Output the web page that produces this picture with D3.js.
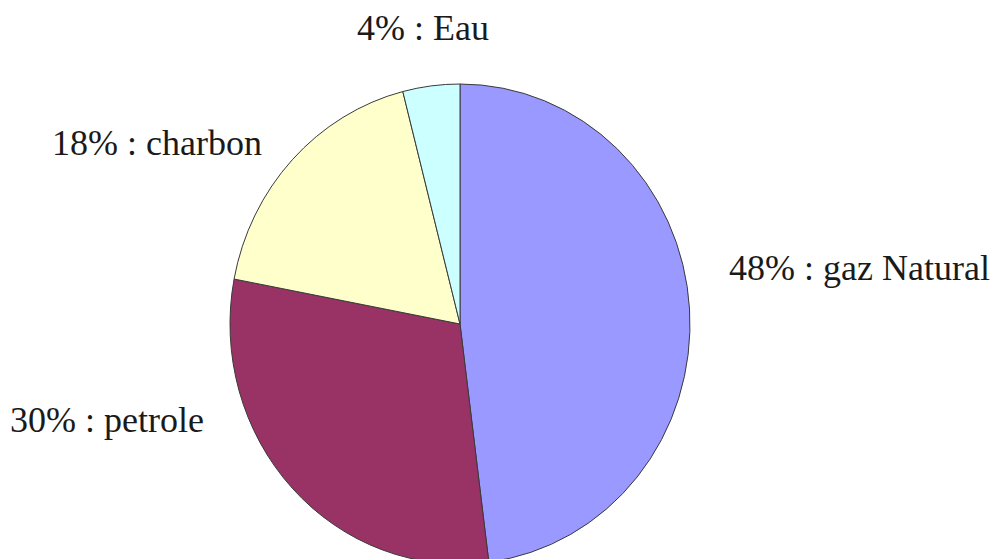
<!DOCTYPE html>
<html>
<head>
<meta charset="utf-8">
<script src="https://cdn.jsdelivr.net/npm/d3@7"></script>
<style>
  html, body { margin: 0; padding: 0; background: #fff; }
  svg { display: block; }
  text { font-family: "Liberation Serif", "Times New Roman", serif; fill: #1a1a1a; }
</style>
</head>
<body>
<svg id="chart" width="997" height="559"></svg>
<script>
// ---- data ----
const categories = ["gaz Natural", "petrole", "charbon", "Eau"];
const values = [48, 30, 18, 4];
const colors = ["#9999FF", "#993366", "#FFFFCC", "#CCFFFF"];

// ---- layout (label placement, not data) ----
const labelPos = [
  { x: 729, y: 280 },
  { x: 10,  y: 432 },
  { x: 52,  y: 155 },
  { x: 357, y: 40 }
];

const W = 997, H = 559;
const cx = 460, cy = 324, rx = 230, ry = 240;

const svg = d3.select("#chart");

const pie = d3.pie().sort(null).value(d => d.value);
const arcs = pie(categories.map((c, i) => ({ name: c, value: values[i], color: colors[i] })));

const arc = d3.arc().innerRadius(0).outerRadius(rx);

const g = svg.append("g")
  .attr("transform", `translate(${cx},${cy}) scale(1,${ry / rx})`);

g.selectAll("path")
  .data(arcs)
  .join("path")
  .attr("d", arc)
  .attr("fill", d => d.data.color)
  .attr("stroke", "#3a3a3a")
  .attr("stroke-width", 1)
  .attr("vector-effect", "non-scaling-stroke")
  .attr("stroke-linejoin", "round");

const total = d3.sum(values);
svg.selectAll("text.lbl")
  .data(arcs)
  .join("text")
  .attr("class", "lbl")
  .attr("x", (d, i) => labelPos[i].x)
  .attr("y", (d, i) => labelPos[i].y)
  .attr("font-size", 36)
  .text(d => `${Math.round(d.data.value / total * 100)}% : ${d.data.name}`);
</script>
</body>
</html>
